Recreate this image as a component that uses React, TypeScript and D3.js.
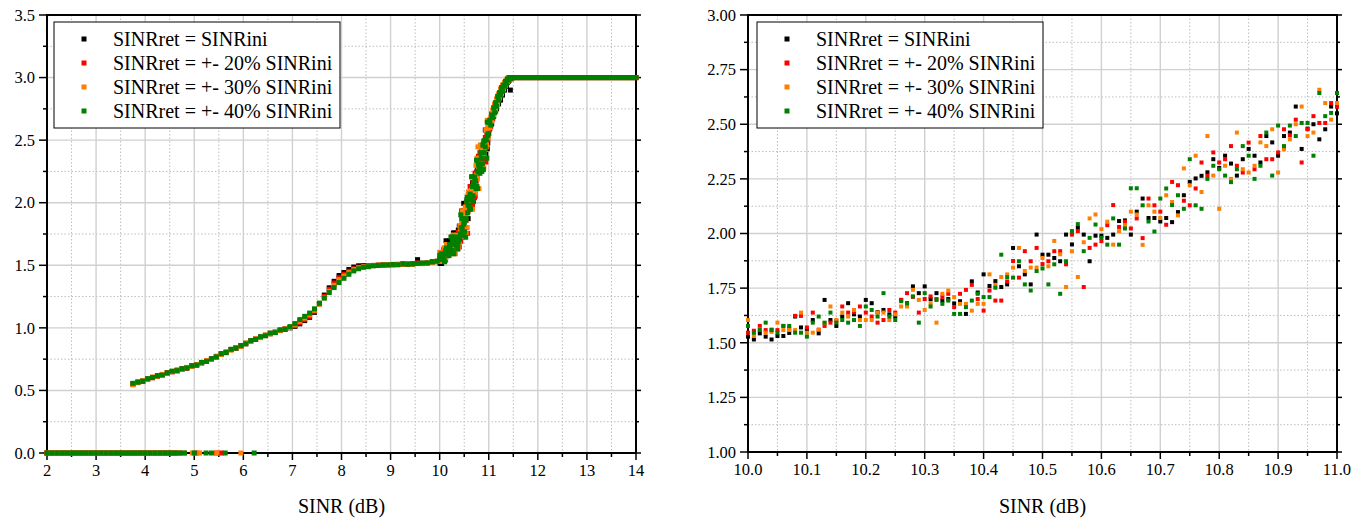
import React from 'react';
import * as d3 from 'd3';

// ---------------- data ----------------
const seriesNames = [
  'SINRret = SINRini',
  'SINRret = +- 20% SINRini',
  'SINRret = +- 30% SINRini',
  'SINRret = +- 40% SINRini',
];
const seriesColors = ['#000000', '#ff0000', '#ff7f00', '#008000'];

// tick labels
const leftXTicks = [2, 3, 4, 5, 6, 7, 8, 9, 10, 11, 12, 13, 14];
const leftYTicks = [0, 0.5, 1.0, 1.5, 2.0, 2.5, 3.0, 3.5];
const rightXTicks = [10.0, 10.1, 10.2, 10.3, 10.4, 10.5, 10.6, 10.7, 10.8, 10.9, 11.0];
const rightYTicks = [1.0, 1.25, 1.5, 1.75, 2.0, 2.25, 2.5, 2.75, 3.0];

// outage points (value 0) – shared low-SINR samples plus per-series extra samples
const zeroGrid = [2.0, 2.1, 2.2, 2.3, 2.4, 2.5, 2.6, 2.7, 2.8, 2.9, 3.0, 3.1, 3.2, 3.3, 3.4, 3.5, 3.6, 3.7, 3.8, 3.9, 4.0, 4.1, 4.2, 4.3, 4.4, 4.5, 4.6];
const zeroExtraBlack: number[] = [];
const zeroExtraRed = [4.7, 5.05, 5.45, 5.55];
const zeroExtraOrange = [4.7, 4.8, 4.96, 5.11, 5.46, 5.95];
const zeroExtraGreen = [4.7, 4.8, 5.0, 5.24, 5.35, 5.63, 6.22];
const zeroLevel = 0;

// low / middle part of the curve (3.75 – 9.95 dB)
const lowX = [3.75, 3.85, 3.95, 4.05, 4.15, 4.25, 4.35, 4.45, 4.55, 4.65, 4.75, 4.85, 4.95, 5.05, 5.15, 5.25, 5.35, 5.45, 5.55, 5.65, 5.75, 5.85, 5.95, 6.05, 6.15, 6.25, 6.35, 6.45, 6.55, 6.65, 6.75, 6.85, 6.95, 7.05, 7.15, 7.25, 7.35, 7.45, 7.55, 7.65, 7.75, 7.85, 7.95, 8.05, 8.15, 8.25, 8.35, 8.45, 8.55, 8.65, 8.75, 8.85, 8.95, 9.05, 9.15, 9.25, 9.35, 9.45, 9.55, 9.65, 9.75, 9.85, 9.95];
const lowBlack = [0.550, 0.563, 0.576, 0.587, 0.604, 0.612, 0.626, 0.638, 0.651, 0.657, 0.671, 0.682, 0.693, 0.706, 0.719, 0.733, 0.752, 0.768, 0.791, 0.802, 0.826, 0.842, 0.853, 0.877, 0.893, 0.911, 0.924, 0.941, 0.953, 0.966, 0.979, 0.992, 1.000, 1.012, 1.032, 1.058, 1.084, 1.124, 1.196, 1.262, 1.320, 1.372, 1.418, 1.442, 1.466, 1.486, 1.496, 1.497, 1.496, 1.499, 1.501, 1.500, 1.505, 1.504, 1.506, 1.509, 1.510, 1.511, 1.545, 1.516, 1.520, 1.528, 1.529];
const lowRed = [0.552, 0.568, 0.571, 0.592, 0.601, 0.617, 0.627, 0.643, 0.648, 0.662, 0.672, 0.677, 0.697, 0.702, 0.722, 0.737, 0.748, 0.772, 0.788, 0.807, 0.827, 0.837, 0.857, 0.873, 0.897, 0.908, 0.927, 0.938, 0.957, 0.963, 0.982, 0.987, 1.003, 1.018, 1.042, 1.066, 1.092, 1.132, 1.192, 1.252, 1.308, 1.358, 1.400, 1.428, 1.452, 1.472, 1.484, 1.490, 1.494, 1.498, 1.500, 1.503, 1.504, 1.506, 1.508, 1.510, 1.511, 1.513, 1.517, 1.516, 1.521, 1.526, 1.531];
const lowOrange = [0.545, 0.562, 0.577, 0.588, 0.607, 0.613, 0.628, 0.637, 0.652, 0.663, 0.668, 0.684, 0.692, 0.708, 0.717, 0.738, 0.747, 0.773, 0.787, 0.808, 0.822, 0.843, 0.852, 0.878, 0.892, 0.913, 0.922, 0.943, 0.952, 0.968, 0.977, 0.993, 1.002, 1.024, 1.052, 1.078, 1.104, 1.140, 1.188, 1.240, 1.292, 1.340, 1.385, 1.414, 1.442, 1.466, 1.480, 1.488, 1.493, 1.497, 1.501, 1.499, 1.506, 1.503, 1.507, 1.509, 1.512, 1.508, 1.516, 1.513, 1.522, 1.524, 1.532];
const lowGreen = [0.557, 0.566, 0.573, 0.594, 0.603, 0.618, 0.622, 0.641, 0.654, 0.658, 0.673, 0.679, 0.698, 0.703, 0.724, 0.732, 0.753, 0.768, 0.794, 0.803, 0.829, 0.838, 0.859, 0.872, 0.898, 0.907, 0.929, 0.937, 0.958, 0.962, 0.984, 0.988, 1.010, 1.034, 1.066, 1.092, 1.118, 1.152, 1.196, 1.238, 1.282, 1.322, 1.362, 1.396, 1.428, 1.455, 1.472, 1.484, 1.489, 1.496, 1.498, 1.502, 1.503, 1.507, 1.504, 1.512, 1.508, 1.511, 1.514, 1.517, 1.519, 1.527, 1.533];

// detail region 10.0 – 11.0 dB (right panel, also part of left panel)
const detailX = [10.00, 10.01, 10.02, 10.03, 10.04, 10.05, 10.06, 10.07, 10.08, 10.09, 10.10, 10.11, 10.12, 10.13, 10.14, 10.15, 10.16, 10.17, 10.18, 10.19, 10.20, 10.21, 10.22, 10.23, 10.24, 10.25, 10.26, 10.27, 10.28, 10.29, 10.30, 10.31, 10.32, 10.33, 10.34, 10.35, 10.36, 10.37, 10.38, 10.39, 10.40, 10.41, 10.42, 10.43, 10.44, 10.45, 10.46, 10.47, 10.48, 10.49, 10.50, 10.51, 10.52, 10.53, 10.54, 10.55, 10.56, 10.57, 10.58, 10.59, 10.60, 10.61, 10.62, 10.63, 10.64, 10.65, 10.66, 10.67, 10.68, 10.69, 10.70, 10.71, 10.72, 10.73, 10.74, 10.75, 10.76, 10.77, 10.78, 10.79, 10.80, 10.81, 10.82, 10.83, 10.84, 10.85, 10.86, 10.87, 10.88, 10.89, 10.90, 10.91, 10.92, 10.93, 10.94, 10.95, 10.96, 10.97, 10.98, 10.99, 11.00];
const detailBlack = [
  1.528, 1.515, 1.543, 1.528, 1.515, 1.531, 1.531, 1.545, 1.620, 1.570,
  1.560, 1.604, 1.543, 1.696, 1.604, 1.577, 1.620, 1.681, 1.630, 1.620,
  1.696, 1.681, 1.640, 1.650, 1.630, 1.620, 1.696, 1.681, 1.758, 1.727,
  1.758, 1.700, 1.727, 1.693, 1.700, 1.680, 1.690, 1.632, 1.781, 1.730,
  1.813, 1.760, 1.782, 1.755, 1.767, 1.934, 1.850, 1.813, 1.767, 1.995,
  1.903, 1.903, 1.888, 1.873, 1.995, 1.950, 2.026, 1.995, 1.873, 1.990,
  1.990, 1.980, 1.995, 2.057, 2.060, 1.995, 2.100, 2.160, 2.071, 2.071,
  2.055, 2.071, 2.052, 2.098, 2.175, 2.236, 2.252, 2.264, 2.280, 2.340,
  2.300, 2.356, 2.320, 2.265, 2.340, 2.387, 2.356, 2.325, 2.446, 2.417,
  2.356, 2.446, 2.462, 2.581, 2.387, 2.480, 2.500, 2.431, 2.477, 2.581,
  2.550];
const detailRed = [
  1.546, 1.555, 1.577, 1.558, 1.560, 1.558, 1.577, 1.565, 1.623, 1.623,
  1.570, 1.638, 1.558, 1.577, 1.592, 1.600, 1.666, 1.638, 1.640, 1.666,
  1.638, 1.620, 1.592, 1.604, 1.650, 1.638, 1.696, 1.727, 1.710, 1.638,
  1.700, 1.712, 1.700, 1.710, 1.724, 1.663, 1.724, 1.742, 1.765, 1.700,
  1.647, 1.739, 1.693, 1.693, 1.780, 1.874, 1.798, 1.919, 1.873, 1.934,
  1.860, 1.873, 1.919, 1.919, 1.859, 1.995, 2.011, 1.755, 1.934, 1.949,
  1.965, 2.038, 2.130, 2.030, 2.054, 2.023, 2.069, 1.979, 2.160, 2.129,
  2.100, 2.040, 2.236, 2.221, 2.150, 2.129, 2.206, 2.325, 2.265, 2.371,
  2.325, 2.340, 2.400, 2.310, 2.279, 2.416, 2.294, 2.446, 2.340, 2.340,
  2.371, 2.477, 2.450, 2.521, 2.325, 2.477, 2.537, 2.506, 2.506, 2.597,
  2.580];
const detailOrange = [
  1.604, 1.531, 1.560, 1.546, 1.550, 1.592, 1.558, 1.558, 1.558, 1.638,
  1.546, 1.546, 1.561, 1.590, 1.666, 1.604, 1.638, 1.620, 1.650, 1.604,
  1.604, 1.604, 1.638, 1.638, 1.604, 1.630, 1.666, 1.666, 1.742, 1.696,
  1.650, 1.681, 1.592, 1.724, 1.739, 1.709, 1.678, 1.678, 1.647, 1.678,
  1.678, 1.813, 1.765, 1.801, 1.813, 1.844, 1.934, 1.828, 1.844, 1.844,
  1.888, 1.850, 1.966, 1.905, 1.755, 1.919, 1.801, 1.960, 2.069, 2.087,
  2.020, 2.054, 1.949, 2.011, 2.038, 2.100, 2.087, 1.948, 2.129, 2.100,
  2.071, 2.175, 2.144, 2.083, 2.298, 2.221, 2.356, 2.190, 2.446, 2.265,
  2.113, 2.310, 2.250, 2.462, 2.294, 2.279, 2.310, 2.417, 2.400, 2.477,
  2.279, 2.385, 2.431, 2.500, 2.581, 2.446, 2.462, 2.658, 2.597, 2.521,
  2.597];
const detailGreen = [
  1.577, 1.546, 1.558, 1.592, 1.558, 1.546, 1.577, 1.577, 1.546, 1.546,
  1.528, 1.592, 1.620, 1.592, 1.638, 1.592, 1.604, 1.592, 1.604, 1.577,
  1.666, 1.650, 1.620, 1.727, 1.620, 1.604, 1.690, 1.680, 1.712, 1.592,
  1.727, 1.666, 1.696, 1.678, 1.693, 1.632, 1.632, 1.663, 1.693, 1.724,
  1.709, 1.709, 1.752, 1.903, 1.800, 1.798, 1.873, 1.767, 1.739, 1.828,
  1.840, 1.767, 1.859, 1.724, 1.873, 2.011, 2.043, 1.919, 1.980, 2.041,
  1.980, 1.949, 2.069, 1.949, 2.023, 2.207, 2.207, 2.129, 2.055, 2.009,
  2.160, 2.206, 2.130, 2.175, 2.113, 2.340, 2.129, 2.113, 2.250, 2.310,
  2.294, 2.265, 2.235, 2.294, 2.400, 2.356, 2.250, 2.310, 2.462, 2.265,
  2.494, 2.400, 2.494, 2.446, 2.506, 2.506, 2.356, 2.643, 2.537, 2.552,
  2.643];

// upper rise 11.02 – 11.50 dB
const riseX = [11.02, 11.04, 11.06, 11.08, 11.10, 11.12, 11.14, 11.16, 11.18, 11.20, 11.22, 11.24, 11.26, 11.28, 11.30, 11.32, 11.34, 11.36, 11.38, 11.40, 11.42, 11.44, 11.46, 11.48, 11.50];
const riseBlack = [2.59, 2.65, 2.63, 2.70, 2.69, 2.73, 2.77, 2.75, 2.81, 2.79, 2.85, 2.82, 2.88, 2.86, 2.91, 2.90, 2.94, 2.93, 2.96, 2.97, 2.98, 2.90, 3.0, 3.0, 3.0];
const riseRed = [2.64, 2.61, 2.71, 2.67, 2.74, 2.78, 2.73, 2.82, 2.80, 2.85, 2.83, 2.89, 2.87, 2.92, 2.90, 2.95, 2.93, 2.97, 2.96, 2.99, 2.98, 3.0, 2.99, 3.0, 3.0];
const riseOrange = [2.60, 2.68, 2.65, 2.74, 2.70, 2.79, 2.75, 2.83, 2.79, 2.87, 2.84, 2.91, 2.87, 2.94, 2.91, 2.96, 2.94, 2.98, 2.97, 3.0, 2.98, 3.0, 3.0, 3.0, 3.0];
const riseGreen = [2.66, 2.62, 2.70, 2.68, 2.76, 2.72, 2.80, 2.77, 2.85, 2.82, 2.88, 2.86, 2.92, 2.89, 2.94, 2.93, 2.97, 2.95, 2.99, 2.98, 3.0, 2.99, 3.0, 3.0, 3.0];

// saturated region (value 3.0)
const plateauX = [11.55, 11.60, 11.65, 11.70, 11.75, 11.80, 11.85, 11.90, 11.95, 12.00, 12.05, 12.10, 12.15, 12.20, 12.25, 12.30, 12.35, 12.40, 12.45, 12.50, 12.55, 12.60, 12.65, 12.70, 12.75, 12.80, 12.85, 12.90, 12.95, 13.00, 13.05, 13.10, 13.15, 13.20, 13.25, 13.30, 13.35, 13.40, 13.45, 13.50, 13.55, 13.60, 13.65, 13.70, 13.75, 13.80, 13.85, 13.90, 13.95, 14.00];
const plateauLevel = 3.0;

// ---------------- assembly ----------------
type Pt = [number, number];
const zeroExtras = [zeroExtraBlack, zeroExtraRed, zeroExtraOrange, zeroExtraGreen];
const lowSeries = [lowBlack, lowRed, lowOrange, lowGreen];
const detailSeries = [detailBlack, detailRed, detailOrange, detailGreen];
const riseSeries = [riseBlack, riseRed, riseOrange, riseGreen];

const zip = (xs: number[], ys: number[]): Pt[] =>
  d3.range(Math.min(xs.length, ys.length)).map((k) => [xs[k], ys[k]] as Pt);

const leftSeries: Pt[][] = seriesNames.map((_, i) => [
  ...zeroGrid.concat(zeroExtras[i]).map((v) => [v, zeroLevel] as Pt),
  ...zip(lowX, lowSeries[i]),
  ...zip(detailX, detailSeries[i]),
  ...zip(riseX, riseSeries[i]),
  ...plateauX.map((v) => [v, plateauLevel] as Pt),
]);
const rightSeries: Pt[][] = seriesNames.map((_, i) => zip(detailX, detailSeries[i]));

// ---------------- drawing ----------------
const FONT = 'Liberation Serif, Times New Roman, Times, DejaVu Serif, serif';

interface PanelProps {
  left: number; right: number; top: number; bottom: number;
  xDomain: [number, number]; yDomain: [number, number];
  xTicks: number[]; yTicks: number[];
  xFmt: (v: number) => string; yFmt: (v: number) => string;
  series: Pt[][]; marker: number; legendLeft: number;
}

function Panel(p: PanelProps) {
  const x = d3.scaleLinear().domain(p.xDomain).range([p.left, p.right]);
  const y = d3.scaleLinear().domain(p.yDomain).range([p.bottom, p.top]);
  const xMinor = d3.pairs(p.xTicks).map(([a, b]) => (a + b) / 2);
  const yMinor = d3.pairs(p.yTicks).map(([a, b]) => (a + b) / 2);
  const h = p.marker;
  const cx = (p.left + p.right) / 2;
  const txt = { fontFamily: FONT };
  return (
    <g>
      {/* grid */}
      {xMinor.map((v) => (
        <line key={'gxm' + v} x1={x(v)} x2={x(v)} y1={p.top} y2={p.bottom} stroke="#bdbdbd" strokeWidth={1} strokeDasharray="1.5,2" />
      ))}
      {yMinor.map((v) => (
        <line key={'gym' + v} x1={p.left} x2={p.right} y1={y(v)} y2={y(v)} stroke="#bdbdbd" strokeWidth={1} strokeDasharray="1.5,2" />
      ))}
      {p.xTicks.map((v) => (
        <line key={'gx' + v} x1={x(v)} x2={x(v)} y1={p.top} y2={p.bottom} stroke="#d0d0d0" strokeWidth={1.4} />
      ))}
      {p.yTicks.map((v) => (
        <line key={'gy' + v} x1={p.left} x2={p.right} y1={y(v)} y2={y(v)} stroke="#d0d0d0" strokeWidth={1.4} />
      ))}
      {/* frame */}
      <rect x={p.left} y={p.top} width={p.right - p.left} height={p.bottom - p.top} fill="none" stroke="#000" strokeWidth={2} />
      {/* ticks */}
      {p.yTicks.map((v) => (
        <g key={'ty' + v}>
          <line x1={p.left - 8} x2={p.left} y1={y(v)} y2={y(v)} stroke="#000" strokeWidth={1.5} />
          <line x1={p.right} x2={p.right + 5} y1={y(v)} y2={y(v)} stroke="#000" strokeWidth={1.5} />
        </g>
      ))}
      {yMinor.map((v) => (
        <g key={'tym' + v}>
          <line x1={p.left - 4} x2={p.left} y1={y(v)} y2={y(v)} stroke="#000" strokeWidth={1.5} />
          <line x1={p.right} x2={p.right + 3} y1={y(v)} y2={y(v)} stroke="#000" strokeWidth={1.5} />
        </g>
      ))}
      {p.xTicks.map((v) => (
        <line key={'tx' + v} x1={x(v)} x2={x(v)} y1={p.bottom} y2={p.bottom + 7} stroke="#000" strokeWidth={1.5} />
      ))}
      {xMinor.map((v) => (
        <line key={'txm' + v} x1={x(v)} x2={x(v)} y1={p.bottom} y2={p.bottom + 4} stroke="#000" strokeWidth={1.5} />
      ))}
      {/* points */}
      {p.series.map((pts, si) => (
        <g key={'s' + si} fill={seriesColors[si]}>
          {pts.map((d, k) => (
            <rect key={k} x={x(d[0]) - h / 2} y={y(d[1]) - h / 2} width={h} height={h} />
          ))}
        </g>
      ))}
      {/* tick labels */}
      {p.yTicks.map((v) => (
        <text key={'ly' + v} x={p.left - 12} y={y(v)} dy="0.35em" textAnchor="end" fontSize={16.5} style={txt} fill="#000">
          {p.yFmt(v)}
        </text>
      ))}
      {p.xTicks.map((v) => (
        <text key={'lx' + v} x={x(v)} y={p.bottom + 23} textAnchor="middle" fontSize={16.5} style={txt} fill="#000">
          {p.xFmt(v)}
        </text>
      ))}
      <text x={cx} y={513} textAnchor="middle" fontSize={20} style={txt} fill="#000">SINR (dB)</text>
      {/* legend */}
      <g>
        <rect x={p.legendLeft} y={22} width={286} height={106} fill="#fff" stroke="#000" strokeWidth={1} />
        {seriesNames.map((name, i) => (
          <g key={'lg' + i}>
            <rect x={p.legendLeft + 30 - 2.5} y={39 + i * 24 - 2.5} width={5} height={5} fill={seriesColors[i]} />
            <text x={p.legendLeft + 59} y={39 + i * 24} dy="0.35em" fontSize={20} style={txt} fill="#000">
              {name}
            </text>
          </g>
        ))}
      </g>
    </g>
  );
}

export default function App() {
  return (
    <svg width={1370} height={519} style={{ position: 'absolute', left: 0, top: 0, background: '#fff', fontFamily: FONT }}>
      <rect x={0} y={0} width={1370} height={519} fill="#fff" />
      <Panel
        left={47} right={636} top={15} bottom={453}
        xDomain={[2, 14]} yDomain={[0, 3.5]}
        xTicks={leftXTicks} yTicks={leftYTicks}
        xFmt={d3.format('d')} yFmt={d3.format('.1f')}
        series={leftSeries} marker={5} legendLeft={54}
      />
      <Panel
        left={748} right={1337} top={15} bottom={452}
        xDomain={[10, 11]} yDomain={[1, 3]}
        xTicks={rightXTicks} yTicks={rightYTicks}
        xFmt={d3.format('.1f')} yFmt={d3.format('.2f')}
        series={rightSeries} marker={4} legendLeft={757}
      />
    </svg>
  );
}
